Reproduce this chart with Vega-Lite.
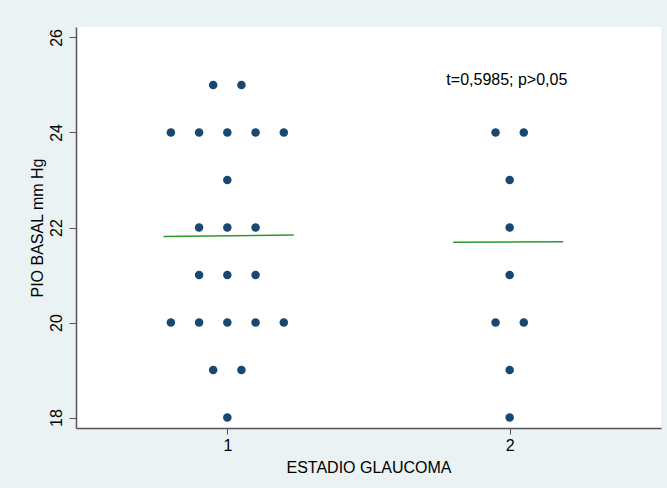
{
  "$schema": "https://vega.github.io/schema/vega-lite/v6.json",
  "width": 585,
  "height": 401,
  "autosize": "none",
  "padding": {"left": 76, "top": 27, "right": 6, "bottom": 60},
  "background": "#EAF2F3",
  "config": {
    "view": {"fill": "white", "stroke": null},
    "font": "Liberation Sans",
    "axis": {
      "grid": false,
      "domainColor": "#555555",
      "domainWidth": 1.5,
      "tickColor": "#555555",
      "tickSize": 7,
      "labelFont": "Liberation Sans",
      "titleFont": "Liberation Sans",
      "labelFontSize": 16,
      "titleFontSize": 16,
      "labelColor": "#000000",
      "titleColor": "#000000",
      "titleFontWeight": "normal"
    }
  },
  "layer": [
    {
      "data": {"values": [
        {"estadio": 1, "x": 0.95, "pio": 25}, {"estadio": 1, "x": 1.05, "pio": 25},
        {"estadio": 1, "x": 0.8, "pio": 24}, {"estadio": 1, "x": 0.9, "pio": 24}, {"estadio": 1, "x": 1.0, "pio": 24}, {"estadio": 1, "x": 1.1, "pio": 24}, {"estadio": 1, "x": 1.2, "pio": 24},
        {"estadio": 1, "x": 1.0, "pio": 23},
        {"estadio": 1, "x": 0.9, "pio": 22}, {"estadio": 1, "x": 1.0, "pio": 22}, {"estadio": 1, "x": 1.1, "pio": 22},
        {"estadio": 1, "x": 0.9, "pio": 21}, {"estadio": 1, "x": 1.0, "pio": 21}, {"estadio": 1, "x": 1.1, "pio": 21},
        {"estadio": 1, "x": 0.8, "pio": 20}, {"estadio": 1, "x": 0.9, "pio": 20}, {"estadio": 1, "x": 1.0, "pio": 20}, {"estadio": 1, "x": 1.1, "pio": 20}, {"estadio": 1, "x": 1.2, "pio": 20},
        {"estadio": 1, "x": 0.95, "pio": 19}, {"estadio": 1, "x": 1.05, "pio": 19},
        {"estadio": 1, "x": 1.0, "pio": 18},
        {"estadio": 2, "x": 1.95, "pio": 24}, {"estadio": 2, "x": 2.05, "pio": 24},
        {"estadio": 2, "x": 2.0, "pio": 23},
        {"estadio": 2, "x": 2.0, "pio": 22},
        {"estadio": 2, "x": 2.0, "pio": 21},
        {"estadio": 2, "x": 1.95, "pio": 20}, {"estadio": 2, "x": 2.05, "pio": 20},
        {"estadio": 2, "x": 2.0, "pio": 19},
        {"estadio": 2, "x": 2.0, "pio": 18}
      ]},
      "mark": {"type": "point", "filled": true, "opacity": 1, "size": 72, "color": "#1A476F"},
      "encoding": {
        "x": {
          "field": "x", "type": "quantitative",
          "scale": {"domain": [0.464, 2.536], "nice": false, "zero": false},
          "axis": {"values": [1, 2], "format": "d", "title": "ESTADIO GLAUCOMA", "labelPadding": 3, "titlePadding": 6, "tickSize": 6}
        },
        "y": {
          "field": "pio", "type": "quantitative",
          "scale": {"domain": [17.78, 26.22], "nice": false, "zero": false},
          "axis": {"values": [18, 20, 22, 24, 26], "format": "d", "title": "PIO BASAL mm Hg", "labelAngle": -90, "labelAlign": "center", "labelBaseline": "bottom", "labelPadding": 5, "titlePadding": 3}
        }
      }
    },
    {
      "data": {"values": [
        {"estadio": 1, "x": 0.774, "media": 21.81},
        {"estadio": 1, "x": 1.235, "media": 21.84},
        {"estadio": 2, "x": 1.80, "media": 21.69},
        {"estadio": 2, "x": 2.19, "media": 21.70}
      ]},
      "mark": {"type": "line", "color": "#2A9A2A", "strokeWidth": 1.5},
      "encoding": {
        "x": {"field": "x", "type": "quantitative"},
        "y": {"field": "media", "type": "quantitative"},
        "detail": {"field": "estadio"}
      }
    },
    {
      "data": {"values": [{"x": 1.99, "y": 25.1, "label": "t=0,5985; p>0,05"}]},
      "mark": {"type": "text", "font": "Liberation Sans", "fontSize": 16, "color": "#000000", "align": "center", "baseline": "middle"},
      "encoding": {
        "x": {"field": "x", "type": "quantitative"},
        "y": {"field": "y", "type": "quantitative"},
        "text": {"field": "label"}
      }
    }
  ]
}
